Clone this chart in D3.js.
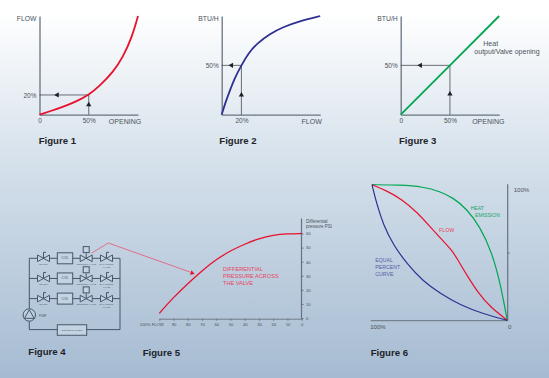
<!DOCTYPE html>
<html>
<head>
<meta charset="utf-8">
<script src="https://cdnjs.cloudflare.com/ajax/libs/d3/7.8.5/d3.min.js"></script>
<style>
  html, body { margin: 0; padding: 0; }
  svg { display: block; }
  text { font-family: "Liberation Sans", Arial, sans-serif; }
</style>
</head>
<body>
<div id="chart"></div>
<script>
// Figure 1
const fig1Opening = [0, 11, 24, 38, 50, 61, 75, 85, 94, 100]
const fig1Flow = [0, 3.6, 8, 13.7, 20, 29, 43.5, 58.7, 79, 100]
// Figure 2
const fig2Flow = [0, 3.4, 8.5, 13.6, 20, 27, 35.6, 49, 62.7, 79.7, 100]
const fig2Btu = [0, 11.4, 25, 38, 50, 62, 72, 82, 89, 95, 100]
// Figure 3
const fig3Opening = [0, 50, 100]
const fig3Btu = [0, 50, 100]
// Figure 5
const fig5FlowTicks = [100, 90, 80, 70, 60, 50, 40, 30, 20, 10, 0]
const fig5PressureTicks = [0, 10, 20, 30, 40, 50, 60]
const fig5Pressure = [3.3, 14.7, 24.5, 33.6, 41.6, 47.8, 52.5, 56.5, 58.9, 59.8, 60]
// Figure 6
const fig6HeatX = [100, 79.3, 62, 49.8, 39.9, 30, 20.2, 11.6, 5.4, 0]
const fig6HeatY = [100, 99.8, 98.5, 95, 90.3, 82.2, 69, 50.6, 28.5, 0]
const fig6FlowX = [100, 89.2, 78, 67, 57, 49.8, 41, 36.2, 30, 21.4, 12.8, 0]
const fig6FlowY = [100, 95.6, 89.2, 80, 69, 61, 51.8, 44, 33.4, 20, 10, 0]
const fig6EqualX = [100, 96.6, 91.6, 84.2, 74.4, 62, 49.8, 35, 17.7, 0]
const fig6EqualY = [100, 86.2, 70.3, 55.5, 42, 28.5, 20, 11.3, 4.7, 0]
// Figure 4 schematic
const circuitRows = [0, 1, 2]
const figureLabels = ['Figure 1', 'Figure 2', 'Figure 3', 'Figure 4', 'Figure 5', 'Figure 6']

const width = 549
const height = 378
const axisColor = '#69737f'
const textColor = '#4a525a'
const red = '#e8112d'
const blue = '#2e3192'
const green = '#00a651'

const svg = d3.select('#chart').append('svg')
  .attr('width', width)
  .attr('height', height)

const grad = svg.append('defs').append('linearGradient')
  .attr('id', 'bg')
  .attr('x1', 0).attr('y1', 0).attr('x2', 0).attr('y2', 1)
grad.append('stop').attr('offset', '3%').attr('stop-color', '#ffffff')
grad.append('stop').attr('offset', '45%').attr('stop-color', '#d3dfea')
grad.append('stop').attr('offset', '100%').attr('stop-color', '#a6bbd2')

svg.append('rect')
  .attr('width', width)
  .attr('height', height)
  .attr('fill', 'url(#bg)')

function label (g, x, y, str, size, anchor, fill) {
  return g.append('text')
    .attr('x', x)
    .attr('y', y)
    .attr('font-size', size)
    .attr('text-anchor', anchor || 'start')
    .attr('fill', fill || textColor)
    .text(str)
}

function styleAxis (g, color, strokeWidth) {
  g.select('.domain').attr('stroke', color).attr('stroke-width', strokeWidth)
  g.selectAll('.tick line').attr('stroke', color)
  g.selectAll('.tick text')
    .attr('fill', textColor)
    .style('font-family', '"Liberation Sans", Arial, sans-serif')
}

function triangle (g, x, y, angle) {
  g.append('path')
    .attr('d', d3.symbol(d3.symbolTriangle, 12))
    .attr('transform', `translate(${x},${y}) rotate(${angle})`)
    .attr('fill', '#1c2126')
}

// the three small plots on the top row
function smallPlot (opt) {
  const g = svg.append('g')
  const x = d3.scaleLinear().domain([0, 100]).range([opt.left, opt.left + 98.5])
  const y = d3.scaleLinear().domain([0, 100]).range([114.7, 16])
  const fmt = d => d === 0 ? '0' : d + '%'

  const xAxis = g.append('g')
    .attr('transform', 'translate(0,114.7)')
    .call(d3.axisBottom(x).tickValues(opt.xTicks).tickSize(0).tickFormat(fmt).tickPadding(4))
  xAxis.attr('font-size', 6.5)
  styleAxis(xAxis, axisColor, 1.3)

  const yAxis = g.append('g')
    .attr('transform', `translate(${opt.left},0)`)
    .call(d3.axisLeft(y).tickValues([opt.yMark]).tickSize(0).tickFormat(fmt).tickPadding(3))
  yAxis.attr('font-size', 6.5)
  styleAxis(yAxis, axisColor, 1.3)

  label(g, opt.left - 3, 20.8, opt.yTitle, 6.8, 'end')
  label(g, opt.left + opt.xTitleDx, 124.3, opt.xTitle, 7, 'middle')

  // guide lines from the curve to the axes
  g.append('path')
    .attr('d', d3.line()([[x(0), y(opt.yMark)], [x(opt.xMark), y(opt.yMark)], [x(opt.xMark), y(0)]]))
    .attr('fill', 'none')
    .attr('stroke', '#2f353b')
    .attr('stroke-width', 0.7)
  triangle(g, x(opt.leftArrow), y(opt.yMark), -90)
  triangle(g, x(opt.xMark), y(opt.upArrow), 0)

  const line = d3.line()
    .x((d, i) => x(opt.xs[i]))
    .y(d => y(d))
    .curve(opt.xs.length > 3 ? d3.curveBasis : d3.curveLinear)
  g.append('path')
    .attr('d', line(opt.ys))
    .attr('fill', 'none')
    .attr('stroke', opt.color)
    .attr('stroke-width', 1.8)
  return g
}

smallPlot({
  left: 39.5, xs: fig1Opening, ys: fig1Flow, color: red, xMark: 50, yMark: 20, xTicks: [0, 50],
  leftArrow: 18, upArrow: 10, yTitle: 'FLOW', xTitle: 'OPENING', xTitleDx: 85.5
})
smallPlot({
  left: 221.7, xs: fig2Flow, ys: fig2Btu, color: blue, xMark: 20, yMark: 50, xTicks: [20],
  leftArrow: 10, upArrow: 20, yTitle: 'BTU/H', xTitle: 'FLOW', xTitleDx: 90
})
const fig3 = smallPlot({
  left: 400.7, xs: fig3Opening, ys: fig3Btu, color: green, xMark: 50, yMark: 50, xTicks: [0, 50],
  leftArrow: 20, upArrow: 21, yTitle: 'BTU/H', xTitle: 'OPENING', xTitleDx: 87.6
})
label(fig3, 490.7, 46, 'Heat', 7, 'middle')
label(fig3, 507, 54.2, 'output/Valve opening', 7, 'middle')

// Figure 4, the piping schematic
const sch = svg.append('g')
const pipe = '#47566a'
const rowY = d3.scalePoint().domain(circuitRows).range([258.3, 298.6])
const riserL = 29.3
const riserR = 120

function schLine (pts, color, w) {
  sch.append('path')
    .attr('d', d3.line()(pts))
    .attr('fill', 'none')
    .attr('stroke', color || pipe)
    .attr('stroke-width', w || 1)
}

function schBox (cx, cy, w, h, str, size) {
  sch.append('rect')
    .attr('x', cx - w / 2).attr('y', cy - h / 2)
    .attr('width', w).attr('height', h)
    .attr('fill', '#c4d3e2')
    .attr('stroke', pipe)
    .attr('stroke-width', 1)
  if (str) label(sch, cx, cy + 1, str, size || 3, 'middle', pipe)
}

function valve (cx, cy) {
  sch.append('path')
    .attr('d', `M${cx - 6},${cy - 3.3}L${cx + 6},${cy + 3.3}L${cx + 6},${cy - 3.3}L${cx - 6},${cy + 3.3}Z`)
    .attr('fill', '#c4d3e2')
    .attr('stroke', pipe)
    .attr('stroke-width', 1)
}

function handle (cx, cy) {
  schLine([[cx, cy], [cx, cy - 6], [cx + 2.5, cy - 6]])
}

schLine([[riserR, 258.3], [riserR, 329.6], [riserL, 329.6], [riserL, 258.3]])
circuitRows.forEach(r => {
  const cy = rowY(r)
  schLine([[riserL, cy], [riserR, cy]])
  handle(43.5, cy)
  valve(43.5, cy)
  schBox(65, cy, 15.4, 11, 'COIL', 3)
  schLine([[86.2, cy], [86.2, cy - 5]])
  valve(86.2, cy)
  schBox(86.2, cy - 8.7, 6, 6)
  handle(106.5, cy)
  valve(106.5, cy)
  label(sch, 43.5, cy + 6.5, 'ON,OFF', 2.4, 'middle', pipe)
  label(sch, 86.2, cy + 6.5, 'CONTROL VALVE', 2.4, 'middle', pipe)
  label(sch, 106.5, cy + 6.5, 'BALANCING', 2.4, 'middle', pipe)
  label(sch, 106.5, cy + 9.2, 'VALVE', 2.4, 'middle', pipe)
})
sch.append('circle')
  .attr('cx', riserL).attr('cy', 315).attr('r', 6.2)
  .attr('fill', '#bccfe0').attr('stroke', pipe).attr('stroke-width', 1)
sch.append('path')
  .attr('d', d3.symbol(d3.symbolTriangle, 42))
  .attr('transform', `translate(${riserL},315.5)`)
  .attr('fill', 'none').attr('stroke', pipe).attr('stroke-width', 1)
label(sch, 39, 317, 'PUMP', 2.6, 'start', pipe)
schBox(72, 330, 29.4, 10.5, 'BOILER/CHILLER', 2.5)

// Figure 5, pressure against flow
const fig5 = svg.append('g')
const x5 = d3.scaleLinear().domain([100, 0]).range([159.3, 301.7])
const y5 = d3.scaleLinear().domain([0, 60]).range([318, 233.5])

const x5Axis = fig5.append('g')
  .attr('transform', 'translate(0,318.7)')
  .call(d3.axisBottom(x5).tickValues(fig5FlowTicks).tickSize(2).tickSizeOuter(0).tickPadding(2.5)
    .tickFormat(d => d === 100 ? '100% FLOW' : d))
x5Axis.attr('font-size', 4.2)
styleAxis(x5Axis, axisColor, 0.9)
x5Axis.selectAll('.tick text').filter(d => d === 100).attr('text-anchor', 'end').attr('dx', 4)

const y5Axis = fig5.append('g')
  .attr('transform', 'translate(301.5,0)')
  .call(d3.axisRight(y5).tickValues(fig5PressureTicks).tickSize(2).tickSizeOuter(0).tickPadding(2.5))
y5Axis.attr('font-size', 4.2)
styleAxis(y5Axis, axisColor, 1.2)
y5Axis.select('.domain').attr('d', d3.line()([[0, 318.7], [0, 218.5]]))

label(fig5, 306, 222.5, 'Differential', 4.5)
label(fig5, 306, 228, 'pressure  PSI', 4.5)

fig5.append('path')
  .attr('d', d3.line()
    .x((d, i) => x5(fig5FlowTicks[i]))
    .y(d => y5(d))
    .curve(d3.curveBasis)(fig5Pressure))
  .attr('fill', 'none')
  .attr('stroke', red)
  .attr('stroke-width', 1.3)

// leader from the control valve to the curve
fig5.append('path')
  .attr('d', d3.line()([[91.7, 253], [108.3, 243], [190, 272]]))
  .attr('fill', 'none')
  .attr('stroke', '#e9556e')
  .attr('stroke-width', 0.8)
fig5.append('path')
  .attr('d', d3.symbol(d3.symbolTriangle, 10))
  .attr('transform', 'translate(192,273) rotate(109)')
  .attr('fill', red)

const pressureNote = ['DIFFERENTIAL', 'PRESSURE ACROSS', 'THE VALVE']
pressureNote.forEach((t, i) => label(fig5, 223, 270.7 + i * 7.3, t, 5.6, 'start', '#e8455f'))

// Figure 6
const fig6 = svg.append('g')
const x6 = d3.scaleLinear().domain([100, 0]).range([372, 507.3])
const y6 = d3.scaleLinear().domain([0, 100]).range([320.3, 184.7])

const x6Axis = fig6.append('g')
  .attr('transform', 'translate(0,320.7)')
  .call(d3.axisBottom(x6).tickValues([100, 0]).tickSize(0).tickPadding(4)
    .tickFormat(d => d === 0 ? '0' : d + '%'))
x6Axis.attr('font-size', 6.1)
styleAxis(x6Axis, axisColor, 1)
x6Axis.select('.domain').attr('d', d3.line()([[370.7, 0], [507.7, 0]]))
x6Axis.selectAll('.tick text').attr('dx', d => d === 100 ? 5.5 : 2)

const y6Axis = fig6.append('g')
  .attr('transform', 'translate(507.7,0)')
  .call(d3.axisRight(y6).tickValues([100, 50]).tickSize(2).tickPadding(4)
    .tickFormat(d => d === 100 ? '100%' : ''))
y6Axis.attr('font-size', 6.1)
styleAxis(y6Axis, axisColor, 1.2)
y6Axis.select('.domain').attr('d', d3.line()([[0, 320.7], [0, 184.3]]))
y6Axis.selectAll('.tick').filter(d => d === 100).select('line').remove()
y6Axis.selectAll('.tick').filter(d => d === 100).select('text').attr('dy', '1.05em')

const fig6Series = [
  { xs: fig6HeatX, ys: fig6HeatY, color: green },
  { xs: fig6FlowX, ys: fig6FlowY, color: red },
  { xs: fig6EqualX, ys: fig6EqualY, color: blue }
]
fig6.selectAll('path.curve')
  .data(fig6Series)
  .join('path')
  .attr('class', 'curve')
  .attr('d', s => d3.line()
    .x((d, i) => x6(s.xs[i]))
    .y(d => y6(d))
    .curve(d3.curveBasis)(s.ys))
  .attr('fill', 'none')
  .attr('stroke', s => s.color)
  .attr('stroke-width', 1.2)

label(fig6, 470.7, 210, 'HEAT', 5.1, 'start', '#1aa566')
label(fig6, 475, 216.8, 'EMISSION', 5.1, 'start', '#1aa566')
label(fig6, 439, 232, 'FLOW', 5.3, 'start', '#e8455f')
const equalNote = ['EQUAL', 'PERCENT', 'CURVE']
equalNote.forEach((t, i) => label(fig6, 375.3, 261.7 + i * 6.9, t, 5.2, 'start', '#5560a8'))

// figure captions
const captionPos = [[38.7, 144], [219.3, 144], [399, 144], [28.3, 355], [142.7, 355.7], [370.7, 355.7]]
svg.selectAll('text.caption')
  .data(figureLabels)
  .join('text')
  .attr('class', 'caption')
  .attr('x', (d, i) => captionPos[i][0])
  .attr('y', (d, i) => captionPos[i][1])
  .attr('font-size', 9.6)
  .attr('font-weight', 'bold')
  .attr('fill', '#1e2328')
  .text(d => d)
</script>
</body>
</html>
